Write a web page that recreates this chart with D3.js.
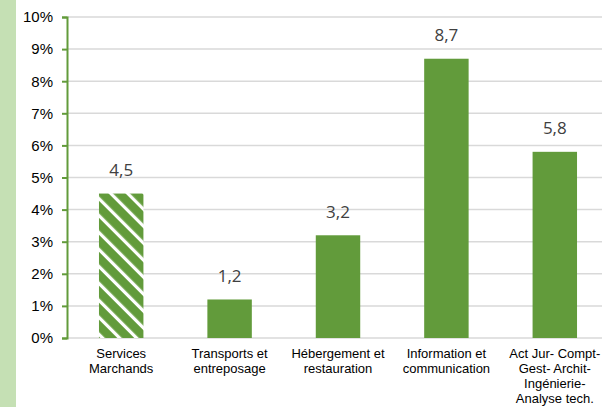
<!DOCTYPE html>
<html><head><meta charset="utf-8">
<script src="https://cdn.jsdelivr.net/npm/d3@7"></script>
<style>body{margin:0;background:#fff;}svg{display:block;}</style>
</head><body>
<script>
const categories = [
  ["Services", "Marchands"],
  ["Transports et", "entreposage"],
  ["Hébergement et", "restauration"],
  ["Information et", "communication"],
  ["Act Jur- Compt-", "Gest- Archit-", "Ingénierie-", "Analyse tech."]
];
const values = [4.5, 1.2, 3.2, 8.7, 5.8];
const valueLabels = ["4,5", "1,2", "3,2", "8,7", "5,8"];
const yTicks = [0,1,2,3,4,5,6,7,8,9,10];

const W = 602, H = 407;
const green = "#629b3b";
const svg = d3.select("body").append("svg").attr("width", W).attr("height", H);

const defs = svg.append("defs");
const pat = defs.append("pattern").attr("id","hatch").attr("patternUnits","userSpaceOnUse")
  .attr("width",12).attr("height",12).attr("patternTransform","rotate(-45)");
pat.append("rect").attr("width",12).attr("height",12).attr("fill",green);
pat.append("rect").attr("x",0).attr("width",3.2).attr("height",12).attr("fill","#fff");

svg.append("rect").attr("x",0).attr("y",0).attr("width",16).attr("height",H).attr("fill","#c5e0b4");

const x = d3.scaleBand().domain(d3.range(categories.length)).range([67, 609]).paddingInner(0.59).paddingOuter(0.295);
const y = d3.scaleLinear().domain([0,10]).range([338, 17]);

// gridlines
svg.append("g").selectAll("line").data(yTicks).join("line")
  .attr("x1",67).attr("x2",W).attr("y1",d=>y(d)).attr("y2",d=>y(d))
  .attr("stroke","#d9d9d9").attr("stroke-width",1.5);

// bars
svg.append("g").selectAll("rect").data(values).join("rect")
  .attr("x",(d,i)=>x(i)).attr("width",x.bandwidth())
  .attr("y",d=>y(d)).attr("height",d=>y(0)-y(d))
  .attr("fill",(d,i)=> i===0 ? "url(#hatch)" : green);

// value labels
svg.append("g").selectAll("text").data(values).join("text")
  .attr("x",(d,i)=>x(i)+x.bandwidth()/2).attr("y",d=>y(d)-17.5)
  .attr("text-anchor","middle").attr("font-family","Open Sans, sans-serif").attr("font-size",17)
  .attr("fill","#404040").text((d,i)=>valueLabels[i]);

// y axis
const yAxis = d3.axisLeft(y).tickValues(yTicks).tickFormat(d=>d+"%").tickSize(5).tickPadding(9);
const gy = svg.append("g").attr("transform","translate(67,0)").call(yAxis);
gy.select(".domain").attr("stroke",green).attr("stroke-width",2);
gy.selectAll(".tick line").attr("stroke",green).attr("stroke-width",2);
gy.selectAll("text").attr("font-family","Liberation Sans, Arial, sans-serif").attr("font-size",15).attr("fill","#000");

// x labels
const xl = svg.append("g").selectAll("text").data(categories).join("text")
  .attr("text-anchor","middle").attr("font-family","Liberation Sans, Arial, sans-serif")
  .attr("font-size",13).attr("fill","#000");
xl.each(function(lines,i){
  const t = d3.select(this);
  lines.forEach((l,j)=>{
    t.append("tspan").attr("x", x(i)+x.bandwidth()/2).attr("y", 358 + j*15).text(l);
  });
});
</script>
</body></html>
